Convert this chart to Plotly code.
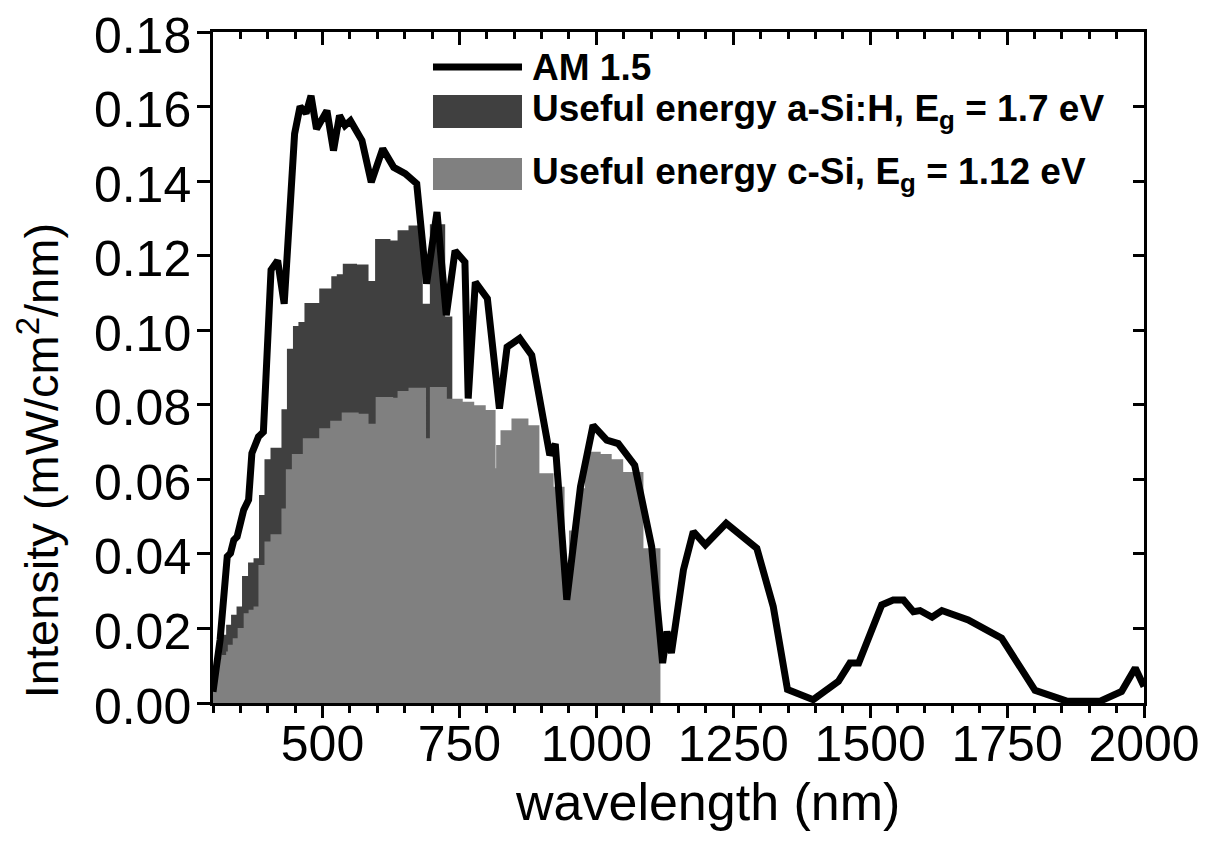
import plotly.graph_objects as go

# ---------------- data ----------------
# AM 1.5 spectrum (wavelength nm, intensity mW/cm^2/nm)
am_wl = [300, 313, 326, 332, 338, 344, 350, 356, 365, 371,
         383, 392, 406, 418, 430, 449, 459, 470, 479, 489,
         508, 520, 531, 541, 551, 572, 589, 610, 630, 651,
         672, 690, 709, 726, 742, 760, 766, 779, 801, 823,
         837, 860, 882, 915, 925, 946, 971, 994, 1019, 1040,
         1070, 1101, 1121, 1129, 1137, 1159, 1177, 1199, 1237, 1293,
         1323, 1349, 1396, 1442, 1463, 1479, 1521, 1542, 1561, 1579,
         1591, 1613, 1631, 1679, 1740, 1801, 1859, 1920, 1959, 1984,
         2000]
am_int = [0.003, 0.017, 0.0393, 0.0402, 0.0437, 0.0446, 0.0482, 0.0518, 0.0545, 0.067,
          0.0714, 0.0727, 0.1162, 0.1187, 0.1071, 0.1527, 0.160, 0.1582, 0.1629, 0.154,
          0.1589, 0.1482, 0.1576, 0.1549, 0.1562, 0.1509, 0.1397, 0.1487, 0.1437, 0.142,
          0.1393, 0.1125, 0.1317, 0.1040, 0.1213, 0.1183, 0.0817, 0.1129, 0.1085, 0.079,
          0.0955, 0.0978, 0.0933, 0.0665, 0.0695, 0.0277, 0.058, 0.0745, 0.0705, 0.0696,
          0.0638, 0.042, 0.0107, 0.0192, 0.0134, 0.0357, 0.046, 0.0424, 0.0482, 0.0415,
          0.0259, 0.0036, 0.0009, 0.0058, 0.0107, 0.0107, 0.0263, 0.0276, 0.0276, 0.0245,
          0.0248, 0.023, 0.0248, 0.0223, 0.0174, 0.0034, 0.0005, 0.0005, 0.0031, 0.0094,
          0.0044]

# Useful energy a-Si:H (Eg = 1.7 eV): bar edges (nm) and bar heights
asi_edges = [300, 305, 315, 324, 333, 343, 353, 364, 374, 384,
             394, 405, 425, 435, 446, 456, 467, 494, 516, 526,
             537, 563, 584, 596, 624, 637, 657, 683, 696, 724, 737]
asi_vals = [0.005, 0.012, 0.0183, 0.021, 0.0237, 0.0259, 0.0341, 0.0377, 0.0388, 0.0558,
            0.0654, 0.0685, 0.0788, 0.095, 0.1011, 0.1022, 0.1073, 0.1112, 0.1145, 0.115,
            0.1178, 0.1176, 0.1132, 0.1245, 0.1241, 0.1268, 0.1281, 0.1071, 0.1284, 0.1037]

# Useful energy c-Si (Eg = 1.12 eV): bar edges (nm) and bar heights
csi_edges = [300, 305, 315, 324, 327, 336, 345, 356, 365, 374,
             383, 394, 405, 425, 433, 444, 464, 494, 514, 535,
             566, 584, 597, 629, 637, 657, 689, 696, 727, 756,
             777, 798, 816, 817, 825, 845, 876, 896, 922, 942,
             946, 950, 965, 979, 1008, 1028, 1049, 1086, 1117]
csi_vals = [0.0036, 0.0118, 0.0129, 0.0138, 0.0156, 0.0174, 0.0201, 0.0241, 0.025, 0.0259,
            0.037, 0.0433, 0.0453, 0.0522, 0.0627, 0.0668, 0.071, 0.0737, 0.0757, 0.0779,
            0.0776, 0.0749, 0.0821, 0.0819, 0.0837, 0.0846, 0.071, 0.0848, 0.0816, 0.0808,
            0.0799, 0.0786, 0.063, 0.0692, 0.0732, 0.0763, 0.0745, 0.0616, 0.058, 0.0344,
            0.0277, 0.0463, 0.0576, 0.0674, 0.0668, 0.0654, 0.062, 0.0415]

x_ticks = [500, 750, 1000, 1250, 1500, 1750, 2000]
y_ticks = [0.00, 0.02, 0.04, 0.06, 0.08, 0.10, 0.12, 0.14, 0.16, 0.18]

legend_labels = ["AM 1.5",
                 "Useful energy a-Si:H, E<sub>g</sub> = 1.7 eV",
                 "Useful energy c-Si, E<sub>g</sub> = 1.12 eV"]

DARK = "#404040"
LIGHT = "#808080"
FONT = "Liberation Sans, Arial, sans-serif"

fig = go.Figure()

# a-Si:H useful energy (step columns)
fig.add_trace(go.Scatter(
    x=asi_edges, y=asi_vals + [asi_vals[-1]], mode="lines",
    line=dict(shape="hv", width=0, color=DARK),
    fill="tozeroy", fillcolor=DARK, showlegend=False, hoverinfo="skip"))

# c-Si useful energy (step columns)
fig.add_trace(go.Scatter(
    x=csi_edges, y=csi_vals + [csi_vals[-1]], mode="lines",
    line=dict(shape="hv", width=0, color=LIGHT),
    fill="tozeroy", fillcolor=LIGHT, showlegend=False, hoverinfo="skip"))

# AM 1.5 spectrum
fig.add_trace(go.Scatter(
    x=am_wl, y=am_int, mode="lines",
    line=dict(color="black", width=7),
    showlegend=False))

# invisible trace to carry the mirrored (top/right) axes
fig.add_trace(go.Scatter(
    x=am_wl, y=am_int, mode="lines", xaxis="x2", yaxis="y2",
    line=dict(width=0), opacity=0, showlegend=False, hoverinfo="skip"))

axis_common = dict(showgrid=False, zeroline=False, showline=True,
                   linecolor="black", linewidth=2.5, tickcolor="black",
                   tickwidth=2.5, automargin=False)

fig.update_layout(
    template="none",
    width=1214, height=844,
    margin=dict(l=213, r=70, t=32, b=141, autoexpand=False),
    paper_bgcolor="white", plot_bgcolor="white",
    font=dict(family=FONT, color="black"),
    xaxis=dict(range=[300, 2000], tickvals=x_ticks, ticks="outside", ticklen=12,
               minor=dict(dtick=50, tick0=0, ticks="outside", ticklen=7,
                          tickwidth=2.5, tickcolor="black"),
               ticklabelstandoff=-17,
               tickfont=dict(size=50, family=FONT), **axis_common),
    yaxis=dict(range=[0, 0.18], tickvals=y_ticks, tickformat=".2f",
               ticks="outside", ticklen=13, ticklabelstandoff=-4,
               ticklabelshift=3,
               tickfont=dict(size=50, family=FONT), **axis_common),
    xaxis2=dict(range=[300, 2000], overlaying="x", side="top", anchor="y2",
                tickvals=x_ticks, ticks="inside", ticklen=13,
                minor=dict(dtick=50, tick0=0, ticks="inside", ticklen=7,
                           tickwidth=2.5, tickcolor="black"),
                showticklabels=False, **axis_common),
    yaxis2=dict(range=[0, 0.18], overlaying="y", side="right", anchor="x2",
                tickvals=y_ticks, ticks="inside", ticklen=11,
                showticklabels=False, **axis_common),
)

# axis titles
fig.add_annotation(text="Intensity (mW/cm<sup>2</sup>/nm)", xref="paper", yref="paper",
                   x=-0.1875, y=0.361, xanchor="center", yanchor="middle",
                   textangle=-90, showarrow=False, font=dict(size=47, family=FONT))
fig.add_annotation(text="wavelength (nm)", xref="paper", yref="paper",
                   x=0.531, y=-0.147, xanchor="center", yanchor="middle",
                   showarrow=False, font=dict(size=52, family=FONT))

# legend (drawn inside the plot area)
fig.add_shape(type="line", xref="paper", yref="paper", x0=0.2363, x1=0.3319,
              y0=0.9478, y1=0.9478, line=dict(color="black", width=7))
fig.add_shape(type="rect", xref="paper", yref="paper", x0=0.2363, x1=0.3319,
              y0=0.8569, y1=0.9061, fillcolor=DARK, line=dict(width=0))
fig.add_shape(type="rect", xref="paper", yref="paper", x0=0.2363, x1=0.3319,
              y0=0.7645, y1=0.8122, fillcolor=LIGHT, line=dict(width=0))
for lbl, yy in zip(legend_labels, [0.9478, 0.8823, 0.7884]):
    fig.add_annotation(text="<b>" + lbl + "</b>", xref="paper", yref="paper",
                       x=0.3405, y=yy, xanchor="left", yanchor="middle",
                       showarrow=False, font=dict(size=37, family=FONT))

fig.write_html("out.html")
